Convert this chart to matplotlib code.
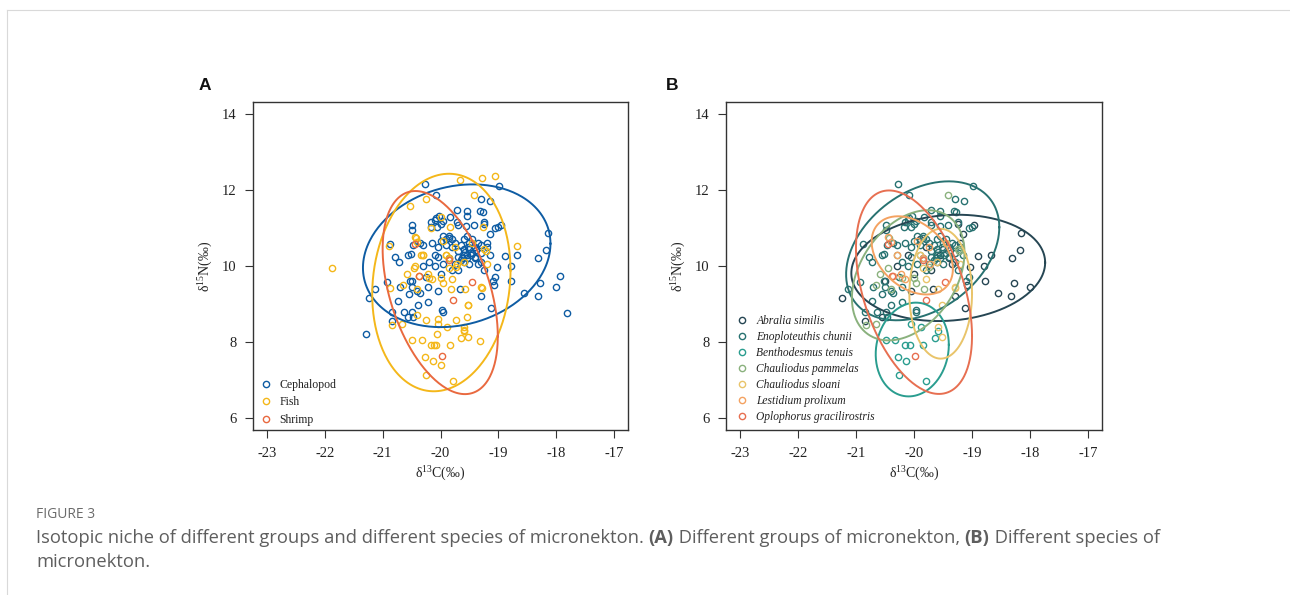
import numpy as np
import matplotlib
matplotlib.use("Agg")
import matplotlib.pyplot as plt
from matplotlib.lines import Line2D

plt.rcParams['font.family'] = ['Liberation Serif', 'DejaVu Serif']
plt.rcParams['mathtext.fontset'] = 'custom'
plt.rcParams['mathtext.rm'] = 'Liberation Serif'
plt.rcParams['mathtext.it'] = 'Liberation Serif:italic'

# ---------------- data (d13C, d15N) ----------------
abralia_x = [-18.15, -18.00, -18.28, -18.32, -18.56, -18.78, -18.67, -18.89, -18.79, -19.03,
             -19.08, -19.12, -19.30, -19.67, -20.05, -21.24, -20.56, -20.84, -19.55, -19.40,
             -19.60, -19.20, -19.80, -20.00, -19.90, -20.30, -19.15, -18.17, -18.31, -19.50,
             -19.35, -20.10, -19.70, -20.50, -19.25, -18.96]
abralia_y = [10.88, 9.44, 9.55, 9.20, 9.28, 9.60, 10.30, 10.26, 10.00, 9.98,
             9.50, 8.90, 9.20, 9.40, 9.33, 9.16, 8.66, 8.55, 10.30, 10.20,
             10.10, 10.60, 10.50, 9.80, 10.70, 10.00, 10.85, 10.42, 10.22, 10.45,
             10.05, 10.30, 9.90, 9.60, 11.10, 11.09]

enoplo_x = [-20.27, -20.08, -18.99, -19.14, -19.30, -19.31, -19.27, -19.71, -19.55, -19.55,
            -19.25, -19.42, -19.56, -19.70, -19.71, -19.05, -19.00, -20.10, -20.08, -20.03,
            -20.00, -20.06, -20.17, -20.16, -20.49, -20.49, -19.83, -19.96, -20.36, -20.47,
            -20.88, -20.78, -20.72, -20.93, -21.14, -20.70, -20.73, -20.63, -20.84, -20.49,
            -20.47, -20.39, -20.21, -20.52, -20.50, -20.55, -20.40, -20.36, -20.56, -20.51,
            -19.96, -19.97, -20.21, -20.20, -20.25, -20.10, -20.05, -19.95, -20.30, -20.15,
            -19.85, -19.95, -19.75, -19.80, -19.70, -19.65, -19.60, -19.50, -19.45, -19.60,
            -19.55, -19.50, -19.65, -19.40, -19.35, -19.30, -19.20, -19.45, -19.55, -19.85,
            -20.00, -19.90, -20.05, -19.85, -19.75, -19.80, -19.70, -19.40, -19.60, -19.30,
            -19.15, -19.25, -19.30, -19.10, -19.05, -19.58, -19.48, -19.62, -19.38, -19.52]
enoplo_y = [12.17, 11.86, 12.12, 11.72, 11.76, 11.44, 11.42, 11.48, 11.46, 11.33,
            11.17, 11.09, 11.05, 11.09, 11.15, 11.00, 11.02, 11.20, 11.27, 11.33,
            11.10, 11.02, 11.03, 11.15, 11.07, 10.95, 11.30, 11.19, 10.60, 10.56,
            10.57, 10.25, 10.10, 9.58, 9.40, 9.45, 9.09, 8.79, 8.78, 8.79,
            8.66, 8.96, 9.06, 9.60, 9.45, 9.25, 9.35, 9.30, 10.29, 10.31,
            8.80, 8.84, 9.44, 10.10, 9.70, 10.00, 10.25, 10.05, 10.55, 10.60,
            10.75, 10.80, 10.60, 10.70, 10.40, 10.55, 10.70, 10.60, 10.35, 10.30,
            10.20, 10.05, 10.15, 10.50, 10.60, 10.55, 10.50, 10.70, 10.80, 10.80,
            10.65, 10.55, 10.50, 10.20, 10.05, 9.90, 10.25, 10.25, 10.45, 10.35,
            10.30, 9.90, 10.10, 9.60, 9.70, 10.38, 10.28, 10.22, 10.42, 10.50]

bentho_x = [-20.49, -20.07, -20.16, -20.27, -20.13, -20.25, -19.79, -19.84, -19.64, -19.88,
            -20.05, -19.59, -20.32]
bentho_y = [8.04, 7.93, 7.91, 7.59, 7.51, 7.14, 6.97, 7.91, 8.10, 8.39,
            8.46, 8.29, 8.04]

pammelas_x = [-19.42, -20.65, -20.66, -20.45, -20.43, -19.96, -19.82, -19.22, -20.30, -19.90,
              -20.00, -20.20, -20.58, -20.83, -19.74, -19.25, -20.40]
pammelas_y = [11.86, 9.49, 8.46, 9.96, 10.74, 9.55, 9.40, 10.39, 10.30, 10.30,
              9.68, 9.68, 9.78, 8.44, 9.98, 10.45, 9.40]

sloani_x = [-19.52, -19.52, -19.59, -19.29, -19.58, -19.80, -19.85, -19.30, -19.45, -19.90,
            -19.20, -19.60]
sloani_y = [8.98, 8.13, 8.39, 9.42, 9.39, 9.65, 9.95, 9.45, 10.60, 10.30,
            10.05, 10.10]

lestidium_x = [-20.44, -20.40, -20.37, -20.22, -19.72, -19.85, -19.95, -20.30, -20.15, -19.75]
lestidium_y = [10.76, 10.62, 9.74, 9.78, 10.04, 10.20, 10.65, 10.30, 9.65, 10.50]

oplo_x = [-20.44, -20.38, -19.85, -19.79, -19.46, -19.98]
oplo_y = [10.59, 9.74, 10.17, 9.10, 9.57, 7.63]

# points only shown in panel A (other species)
ceph_other_x = [-21.28, -17.82, -17.94]
ceph_other_y = [8.20, 8.77, 9.74]
fish_other_x = [-21.87, -19.05, -19.29, -19.67, -20.25, -20.52, -18.68, -19.99, -19.83, -19.27,
                -20.16, -20.89, -20.87, -20.40, -20.25, -20.05, -19.74, -20.06, -19.53, -19.32,
                -19.99, -19.55, -20.44, -20.33, -20.12, -19.60]
fish_other_y = [9.95, 12.38, 12.31, 12.26, 11.77, 11.57, 10.53, 11.29, 11.03, 11.03,
                11.00, 10.52, 9.43, 8.70, 8.57, 8.61, 8.58, 8.20, 8.97, 8.02,
                7.40, 8.65, 9.99, 10.30, 7.91, 8.31]

# ellipse parameters: centre x, centre y, half-range x, half-range y, correlation
groups = ['Cephalopod', 'Fish', 'Shrimp']
group_ell_cx = [-19.72, -19.985, -20.005]
group_ell_cy = [10.27, 9.565, 9.30]
group_ell_sx = [1.62, 1.195, 0.995]
group_ell_sy = [1.88, 2.865, 2.675]
group_ell_r = [0.17, 0.11, -0.43]

species = ['Abralia similis', 'Enoploteuthis chunii', 'Benthodesmus tenuis',
           'Chauliodus pammelas', 'Chauliodus sloani', 'Lestidium prolixum',
           'Oplophorus gracilirostris']
sp_ell_cx = [-19.41, -19.85, -20.03, -20.10, -19.54, -20.03, -20.0]
sp_ell_cy = [9.95, 10.40, 7.80, 9.755, 9.27, 10.28, 9.31]
sp_ell_sx = [1.67, 1.32, 0.63, 0.97, 0.54, 0.70, 1.0]
sp_ell_sy = [1.40, 1.83, 1.235, 1.715, 1.71, 1.03, 2.68]
sp_ell_r = [0.10, 0.34, 0.10, 0.35, 0.0, -0.35, -0.43]

x_ticks = [-23, -22, -21, -20, -19, -18, -17]
y_ticks = [6, 8, 10, 12, 14]

group_colors = ['#0E5CA3', '#F4B71A', '#E9693F']
sp_colors = ['#264653', '#287271', '#2A9D8F', '#8AB17D', '#E9C46A', '#F4A261', '#E76F51']

# --------------- derived groupings ----------------
sp_x = [abralia_x, enoplo_x, bentho_x, pammelas_x, sloani_x, lestidium_x, oplo_x]
sp_y = [abralia_y, enoplo_y, bentho_y, pammelas_y, sloani_y, lestidium_y, oplo_y]
grp_x = [abralia_x + enoplo_x + ceph_other_x,
         bentho_x + pammelas_x + sloani_x + lestidium_x + fish_other_x,
         oplo_x]
grp_y = [abralia_y + enoplo_y + ceph_other_y,
         bentho_y + pammelas_y + sloani_y + lestidium_y + fish_other_y,
         oplo_y]


def ellipse(cx, cy, sx, sy, r):
    t = np.linspace(0, 2 * np.pi, 300)
    ex = cx + sx * np.cos(t)
    ey = cy + sy * (r * np.cos(t) + np.sqrt(1 - r * r) * np.sin(t))
    return ex, ey


W, H = 1290, 595
fig = plt.figure(figsize=(W / 100, H / 100), dpi=100)

axA = fig.add_axes([253 / W, 1 - 430 / H, 375 / W, 328 / H])
axB = fig.add_axes([726 / W, 1 - 430 / H, 376 / W, 328 / H])

MS = 4.5
MEW = 1.0


def style(ax):
    ax.set_xlim(-23.24, -16.76)
    ax.set_ylim(5.68, 14.32)
    ax.set_xticks(x_ticks)
    ax.set_yticks(y_ticks)
    ax.set_xticklabels([str(v) for v in x_ticks])
    ax.tick_params(direction='out', length=6, width=0.8, color='#333333',
                   labelsize=10.5, labelcolor='#222222', pad=6)
    for s in ax.spines.values():
        s.set_linewidth(1.0)
        s.set_color('#333333')
    ax.set_xlabel('δ$^{13}$C(‰)', fontsize=10, color='#222222', labelpad=4)
    ax.set_ylabel('δ$^{15}$N(‰)', fontsize=10, color='#222222', labelpad=5)


# Panel A
for i, g in enumerate(groups):
    axA.plot(grp_x[i], grp_y[i], 'o', ms=MS, mfc='none', mec=group_colors[i], mew=MEW)
for i, g in enumerate(groups):
    ex, ey = ellipse(group_ell_cx[i], group_ell_cy[i], group_ell_sx[i], group_ell_sy[i], group_ell_r[i])
    axA.plot(ex, ey, '-', color=group_colors[i], lw=1.4)
style(axA)
hA = [Line2D([], [], ls='none', marker='o', ms=MS, mfc='none', mec=c, mew=MEW) for c in group_colors]
axA.legend(hA, groups, loc='lower left', bbox_to_anchor=(0.02, 0.013), frameon=False,
           fontsize=8.5, handlelength=1.0, handletextpad=0.6, labelspacing=0.47,
           borderpad=0, borderaxespad=0, labelcolor='#222222')

# Panel B
for i, s in enumerate(species):
    axB.plot(sp_x[i], sp_y[i], 'o', ms=MS, mfc='none', mec=sp_colors[i], mew=MEW)
for i, s in enumerate(species):
    ex, ey = ellipse(sp_ell_cx[i], sp_ell_cy[i], sp_ell_sx[i], sp_ell_sy[i], sp_ell_r[i])
    axB.plot(ex, ey, '-', color=sp_colors[i], lw=1.4)
style(axB)
hB = [Line2D([], [], ls='none', marker='o', ms=MS, mfc='none', mec=c, mew=MEW) for c in sp_colors]
legB = axB.legend(hB, species, loc='lower left', bbox_to_anchor=(0.028, 0.02), frameon=False,
                  fontsize=8.3, handlelength=1.0, handletextpad=0.7, labelspacing=0.36,
                  borderpad=0, borderaxespad=0, labelcolor='#222222')
for t in legB.get_texts():
    t.set_fontstyle('italic')

# panel letters
fig.text(205 / W, 1 - 86 / H, 'A', fontsize=12.5, fontweight='bold', family='Liberation Sans',
         ha='center', va='center', color='#111111')
fig.text(672 / W, 1 - 86 / H, 'B', fontsize=12.5, fontweight='bold', family='Liberation Sans',
         ha='center', va='center', color='#111111')

# frame lines
fig.add_artist(Line2D([7 / W, 1], [1 - 10 / H, 1 - 10 / H], color='#d9d9d9', lw=0.8))
fig.add_artist(Line2D([7 / W, 7 / W], [0, 1 - 10 / H], color='#d9d9d9', lw=0.8))

# caption
cap_font = 'Open Sans'
fig.text(36 / W, 1 - 515 / H, 'FIGURE 3', fontsize=10, family=cap_font, color='#6b6b6b',
         ha='left', va='center')
renderer = fig.canvas.get_renderer()
segments = [('Isotopic niche of different groups and different species of micronekton. ', 'normal'),
            ('(A)', 'bold'),
            (' Different groups of micronekton, ', 'normal'),
            ('(B)', 'bold'),
            (' Different species of', 'normal')]
x = 36
for txt, wgt in segments:
    t = fig.text(x / W, 1 - 538 / H, txt, fontsize=13.2, family=cap_font, fontweight=wgt,
                 color='#5e5e5e', ha='left', va='center')
    bb = t.get_window_extent(renderer)
    x += bb.width
fig.text(36 / W, 1 - 562 / H, 'micronekton.', fontsize=13.2, family=cap_font, color='#5e5e5e',
         ha='left', va='center')

fig.savefig('out.png', dpi=100, facecolor='white')
